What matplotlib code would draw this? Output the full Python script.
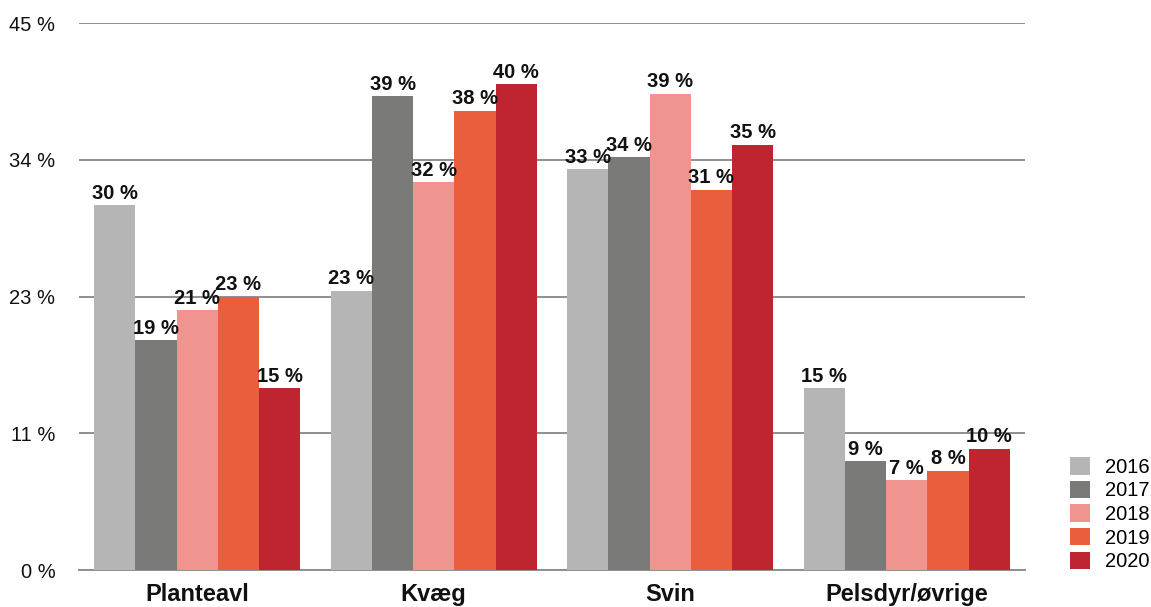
import matplotlib
matplotlib.use("Agg")
import matplotlib.pyplot as plt
import numpy as np

plt.rcParams['font.family'] = ['Liberation Sans', 'DejaVu Sans']

# Share of respondents per branch and year (percent)
categories = ['Planteavl', 'Kvæg', 'Svin', 'Pelsdyr/øvrige']
years = ['2016', '2017', '2018', '2019', '2020']
values_2016 = [30.0, 23.0, 33.0, 15.0]
values_2017 = [18.9, 39.0, 34.0, 9.0]
values_2018 = [21.4, 31.9, 39.2, 7.4]
values_2019 = [22.5, 37.8, 31.3, 8.2]
values_2020 = [15.0, 40.0, 35.0, 10.0]
series = [values_2016, values_2017, values_2018, values_2019, values_2020]
colors = ['#b5b5b5', '#7a7a78', '#f0948f', '#e95f3e', '#be2530']
y_ticks = [0, 11.25, 22.5, 33.75, 45]


def pct(v):
    return f"{int(np.floor(v + 0.5))} %"


fig = plt.figure(figsize=(11.51, 6.07), dpi=100)
ax = fig.add_axes([0.0686, 0.0605, 0.8219, 0.9016])

n = len(series)
bar_w = 0.1742
x = np.arange(len(categories))
for i, (vals, col, yr) in enumerate(zip(series, colors, years)):
    pos = x + (i - (n - 1) / 2) * bar_w
    bars = ax.bar(pos, vals, width=bar_w, color=col, label=yr, zorder=3)
    for b, v in zip(bars, vals):
        ax.annotate(pct(v), (b.get_x() + b.get_width() / 2, v),
                    xytext=(0, 4.5), textcoords='offset points',
                    ha='center', va='baseline', fontsize=14.5,
                    fontweight='bold', color='#111111', zorder=5)

ax.set_xlim(-0.5, len(categories) - 0.5)
ax.set_ylim(0, 45)
ax.set_yticks(y_ticks)
ax.set_yticklabels([pct(t) for t in y_ticks], fontsize=14.5, color='#111111')
ax.set_xticks(x)
ax.set_xticklabels(categories, fontsize=17, fontweight='bold', color='#111111')
ax.tick_params(axis='both', length=0)
ax.tick_params(axis='y', pad=17)
ax.tick_params(axis='x', pad=9)

ax.grid(axis='y', color='#8f8f8f', linewidth=1.4, zorder=1)
for side in ['top', 'right', 'left']:
    ax.spines[side].set_visible(False)
ax.spines['bottom'].set_color('#8f8f8f')
ax.spines['bottom'].set_linewidth(1.4)

ax.legend(loc='lower left', bbox_to_anchor=(1.048, -0.002), frameon=False,
          fontsize=14.5, handlelength=0.95, handleheight=0.95,
          handletextpad=0.75, labelspacing=0.2, borderpad=0, borderaxespad=0)

fig.savefig('out.png', dpi=100)
